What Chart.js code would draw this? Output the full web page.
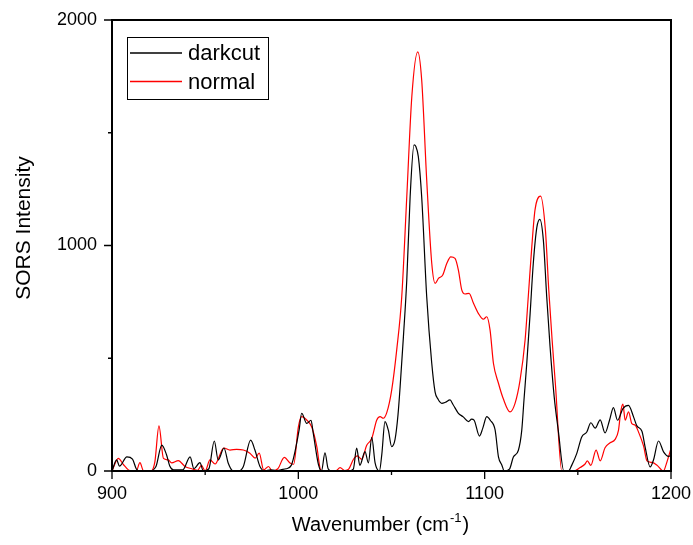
<!DOCTYPE html>
<html>
<head>
<meta charset="utf-8">
<script src="https://cdn.jsdelivr.net/npm/chart.js@4"></script>
<style>
html,body{margin:0;padding:0;background:#fff}
canvas{display:block}
</style>
</head>
<body>
<canvas id="chart" width="693" height="545"></canvas>
<script>
// spectra (wavenumber, intensity)
const darkcutX = [900,902.5,904,908,911,913,915,920,923.6,926.7,929.3,931,933,938,941.9,944,947.2,949,952,954.9,957,960.1,962.4,965,968,970.5,974.4,976.7,979.4,982,985,988,991,993.5,996.2,1000.4,1001.8,1004.5,1006.8,1008,1010.8,1012.4,1014.3,1016,1018,1027,1029.5,1031.3,1033,1035.8,1037.6,1039.4,1041.2,1043.5,1044.8,1046.5,1048.3,1050.1,1051.9,1053.5,1054.6,1056.4,1058.2,1060,1062.1,1063,1064.4,1066.2,1068.9,1071.6,1073.4,1075,1077,1079,1081.4,1083,1085.9,1088.5,1091.3,1093,1094.3,1097.2,1099,1101.1,1103,1105.6,1107.4,1109.2,1110.5,1113.3,1115.4,1118.1,1119.9,1121.1,1122.6,1124.4,1126.1,1128,1129.6,1131.5,1133.3,1135.1,1137.3,1139.5,1142.5,1145,1146.7,1149.4,1152.1,1154.8,1157,1159.3,1162,1164.6,1167,1169.1,1171.3,1174.2,1177.2,1179.9,1181.7,1184.4,1186.2,1188.8,1190.6,1193.3,1196,1198.7,1200];
const darkcutY = [0,49,22,63,53,10,0,0,20,115,71,22,5,5,63,10,37,0,10,133,49,102,34,0,0,20,137,93,20,0,5,2,6,10,25,181,256,211,225,168,28,0,80,10,0,0,8,101,25,86,36,149,36,0,74,219,181,108,140,250,370,596,847,1216,1446,1440,1394,1216,773,478,350,318,300,305,315,295,256,240,219,230,226,155,190,241,225,182,63,27,0,8,62,92,180,315,478,699,921,1080,1116,1024,773,551,330,180,0,0,25,77,151,173,214,190,227,169,225,281,225,277,291,240,200,176,103,18,49,133,85,65,70];

const normalX = [900,903.4,906,908.8,911,913,915,916.8,919,921,923,925.2,927.6,930.2,932,935.6,939.2,942.8,946,948,950,952.6,955.3,960,963.3,966.9,970.5,974,976.8,979,981.4,984,986,989,992.5,995.5,997.5,1000,1001.8,1004.5,1007.2,1009.9,1012,1014,1020,1022.4,1025,1027,1029.6,1031.7,1034,1036.7,1039.4,1042.1,1043.9,1045.6,1047.5,1050.1,1052.8,1055.5,1058.2,1060.9,1064.1,1066.2,1068.9,1071.6,1073.4,1075.2,1077.5,1079.7,1081.8,1084.1,1085.9,1087.7,1089.5,1091.6,1094,1096.6,1099.3,1101.1,1102.9,1104.7,1107.4,1110,1113.6,1116.3,1119,1121.7,1123.4,1125.3,1127,1130,1132.6,1134.4,1136.2,1138,1141.4,1143,1148,1151.2,1153.9,1155.1,1157,1159.8,1162,1164.6,1167.3,1170,1171.8,1173.1,1174.2,1175.4,1177.2,1179,1180.8,1182.6,1185.3,1187.1,1189.9,1192.6,1195.9,1198,1200];
const normalY = [0,56,30,5,0,0,37,2,0,0,40,200,56,49,36,46,20,10,3,25,0,49,31,102,93,96,93,79,57,79,5,20,0,10,60,36,30,195,241,226,195,108,4,0,0,15,2,8,52,67,52,114,144,226,241,234,260,359,537,773,1216,1660,1859,1734,1290,921,832,854,869,921,950,943,891,803,785,788,744,699,673,684,625,478,389,320,262,300,403,581,773,995,1157,1219,1068,803,581,380,0,0,0,15,31,45,25,93,45,103,125,140,180,268,297,225,262,210,203,172,110,45,38,25,0,45,100];

const seriesNames = ['darkcut', 'normal'];
const seriesColors = ['#000000', '#ff0000'];

const xMajorTicks = [900, 1000, 1100, 1200];
const xMinorTicks = [950, 1050, 1150];
const yMajorTicks = [0, 1000, 2000];
const yMinorTicks = [500, 1500];

const xTitle = 'Wavenumber (cm';
const xTitleSup = '-1';
const yTitle = 'SORS Intensity';

const FONT = '"Liberation Sans", Arial, sans-serif';

function pts(xs, ys){ return xs.map((x, i) => ({x: x, y: ys[i]})); }

// frame, tick marks, axis titles and the boxed legend
const decorations = {
  id: 'decorations',
  afterDraw(chart){
    const {ctx, chartArea: a, scales: {x, y}} = chart;
    ctx.save();
    ctx.strokeStyle = '#000';
    ctx.lineWidth = 1.3;
    ctx.beginPath();
    xMajorTicks.forEach(v => { const p = x.getPixelForValue(v); ctx.moveTo(p, a.bottom); ctx.lineTo(p, a.bottom + 8); });
    xMinorTicks.forEach(v => { const p = x.getPixelForValue(v); ctx.moveTo(p, a.bottom); ctx.lineTo(p, a.bottom + 4); });
    yMajorTicks.forEach(v => { const p = y.getPixelForValue(v); ctx.moveTo(a.left, p); ctx.lineTo(a.left - 8, p); });
    yMinorTicks.forEach(v => { const p = y.getPixelForValue(v); ctx.moveTo(a.left, p); ctx.lineTo(a.left - 4, p); });
    ctx.stroke();

    ctx.lineWidth = 2;
    ctx.strokeRect(a.left, a.top, a.right - a.left, a.bottom - a.top);

    // x title with superscript
    ctx.fillStyle = '#000';
    ctx.textBaseline = 'alphabetic';
    ctx.textAlign = 'left';
    const big = '20px ' + FONT, small = '13px ' + FONT;
    ctx.font = big;
    const w1 = ctx.measureText(xTitle).width;
    const w3 = ctx.measureText(')').width;
    ctx.font = small;
    const w2 = ctx.measureText(xTitleSup).width;
    let tx = (a.left + a.right) / 2 - (w1 + w2 + w3) / 2 - 12;
    const ty = 531;
    ctx.font = big;
    ctx.fillText(xTitle, tx, ty);
    ctx.font = small;
    ctx.fillText(xTitleSup, tx + w1 + 1, ty - 9);
    ctx.font = big;
    ctx.fillText(')', tx + w1 + w2 + 2, ty);

    // y title
    ctx.save();
    ctx.translate(24, 228);
    ctx.rotate(-Math.PI / 2);
    ctx.textAlign = 'center';
    ctx.textBaseline = 'middle';
    ctx.font = '21px ' + FONT;
    ctx.fillText(yTitle, 0, 0);
    ctx.restore();

    // legend
    const lx = a.left + 15, ly = a.top + 17, lw = 141, lh = 62;
    ctx.lineWidth = 1;
    ctx.strokeRect(lx + 0.5, ly + 0.5, lw, lh);
    ctx.font = '22px ' + FONT;
    ctx.textBaseline = 'middle';
    chart.data.datasets.forEach((ds, i) => {
      const yy = ly + 16 + i * 28.5;
      ctx.strokeStyle = ds.borderColor;
      ctx.lineWidth = 1.3;
      ctx.beginPath();
      ctx.moveTo(lx + 3, yy);
      ctx.lineTo(lx + 55, yy);
      ctx.stroke();
      ctx.fillStyle = '#000';
      ctx.fillText(ds.label, lx + 61, yy + 1);
    });
    ctx.restore();
  }
};

const tickFont = {family: FONT, size: 18};

// fixed axis boxes so the plot area lands where the original has it
function fitX(s){ s.height = 74; s.paddingLeft = 0; s.paddingRight = 0; }
function fitY(s){ s.width = 112; s.paddingTop = 0; s.paddingBottom = 0; }

new Chart(document.getElementById('chart'), {
  type: 'line',
  data: {
    datasets: [
      {label: seriesNames[0], data: pts(darkcutX, darkcutY), borderColor: seriesColors[0]},
      {label: seriesNames[1], data: pts(normalX, normalY), borderColor: seriesColors[1]}
    ]
  },
  options: {
    responsive: false,
    animation: false,
    layout: {padding: {top: 20, right: 22, left: 0, bottom: 0}},
    plugins: {legend: {display: false}, tooltip: {enabled: false}},
    elements: {
      point: {radius: 0},
      line: {borderWidth: 1.2, cubicInterpolationMode: 'monotone', fill: false}
    },
    scales: {
      x: {
        type: 'linear', min: 900, max: 1200,
        afterFit: fitX,
        grid: {display: false, drawTicks: false, tickLength: 0},
        border: {display: false},
        ticks: {stepSize: 100, autoSkip: false, maxRotation: 0, padding: 12, color: '#000', font: tickFont,
                callback: v => xMajorTicks.includes(v) ? String(v) : ''}
      },
      y: {
        type: 'linear', min: 0, max: 2000,
        afterFit: fitY,
        grid: {display: false, drawTicks: false, tickLength: 0},
        border: {display: false},
        ticks: {stepSize: 1000, padding: 15, color: '#000', font: tickFont,
                callback: v => yMajorTicks.includes(v) ? String(v) : ''}
      }
    }
  },
  plugins: [decorations]
});
</script>
</body>
</html>
